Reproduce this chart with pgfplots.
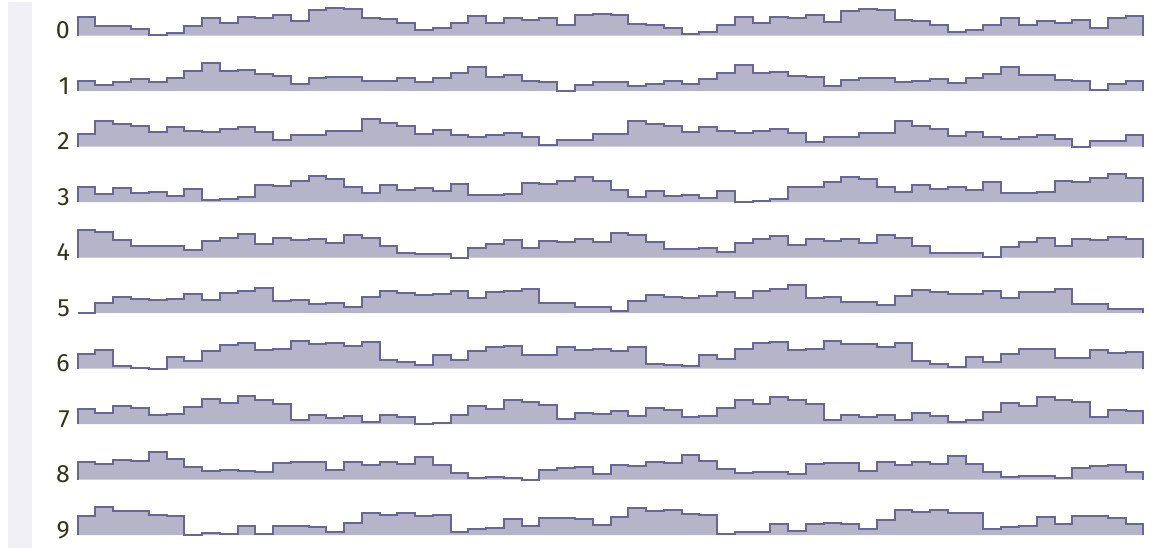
\documentclass[border=0pt]{standalone}
\usepackage{pgfplots}
\usepackage{pgfplotstable}
\pgfplotsset{compat=1.18}
\usepackage{fontspec}
\setmainfont{Fira Sans}[Numbers=Lining]
\definecolor{bandc}{RGB}{240,239,245}
\definecolor{linec}{RGB}{102,102,153}
\definecolor{fillc}{RGB}{181,180,201}
\definecolor{labc}{RGB}{52,52,22}
\pgfplotstableread{
x r0 r1 r2 r3 r4 r5 r6 r7 r8 r9
0 0 0 0 0 0 0 0 0 0 0
0 57 30 39 45 83 0 45 45 54 57
1 30 19 78 24 78 30 57 33 48 84
2 30 27 69 42 54 48 9 54 60 72
3 20 36 63 27 36 42 3 48 57 72
4 1 27 45 30 36 39 0 27 84 60
5 9 41 60 18 36 42 36 30 63 57
6 30 60 48 39 24 57 24 51 39 0
7 54 84 45 6 51 39 54 75 27 6
8 38 60 54 9 60 60 72 63 30 3
9 57 63 60 15 72 66 78 84 27 27
10 53 51 45 51 42 75 57 72 24 3
11 63 47 21 48 60 36 60 60 51 27
12 44 21 36 63 54 39 84 12 54 27
13 77 39 36 78 57 27 75 27 54 24
14 84 44 48 69 45 30 78 18 30 9
15 80 44 48 45 69 18 69 24 54 36
16 53 31 84 27 60 48 81 6 45 66
17 50 32 72 51 36 66 27 27 54 60
18 38 39 63 36 15 60 21 21 48 66
19 17 27 39 42 12 54 12 0 69 57
20 23 39 51 33 12 57 42 3 45 60
21 39 55 36 54 0 66 27 27 21 9
22 60 72 30 21 30 45 54 54 6 18
23 38 44 36 21 42 63 66 45 9 21
24 54 48 42 24 54 66 69 72 6 48
25 47 30 30 57 30 72 42 66 0 27
26 54 27 6 54 51 30 42 57 30 51
27 33 0 20 64 48 30 66 15 36 51
28 62 18 21 75 57 18 57 33 39 48
29 65 27 39 63 48 18 60 30 18 30
30 62 27 39 36 75 6 54 39 45 54
31 36 15 78 15 69 36 66 24 42 81
32 33 21 69 33 48 54 15 48 54 72
33 23 30 63 18 27 48 12 42 51 75
34 6 21 45 21 27 45 9 21 75 63
35 11 36 60 12 30 51 42 24 57 60
36 33 55 48 33 18 63 30 48 33 3
37 57 78 42 0 45 45 60 72 21 9
38 38 54 48 3 57 66 78 60 24 9
39 57 57 54 9 66 72 81 81 24 33
40 54 45 42 45 39 84 57 72 18 12
41 63 42 15 45 57 45 60 60 48 33
42 42 15 30 60 51 48 84 12 51 36
43 75 33 30 75 57 33 75 27 51 33
44 81 39 42 69 45 33 75 21 27 18
45 78 39 42 45 69 24 66 27 54 45
46 48 27 78 30 60 51 78 12 45 75
47 45 30 63 51 36 69 24 33 54 69
48 33 36 54 39 15 63 15 24 48 75
49 12 24 33 45 15 57 6 6 72 66
50 18 39 45 36 15 57 36 12 48 66
51 33 51 30 60 3 66 21 36 24 18
52 54 72 24 27 33 45 45 63 9 24
53 33 48 30 27 48 63 60 54 12 27
54 45 48 36 30 60 63 60 81 12 54
55 39 33 24 65 36 72 33 72 6 33
56 48 30 0 60 57 27 33 66 36 57
57 23 3 18 72 54 27 57 21 42 57
58 54 21 18 84 63 12 48 42 45 51
59 60 30 36 72 57 12 51 39 24 33
60 60 30 36 72 57 12 51 39 24 33
60 0 0 0 0 0 0 0 0 0 0
}\data
\pgfplotsset{
  rowax/.style={hide axis, scale only axis, width=1065.6pt, height=30pt,
    xmin=0, xmax=60, ymin=0, ymax=90, clip=false, anchor=south west},
  stp/.style={const plot, no marks, draw=linec, line width=2pt, fill=fillc, line join=miter},
}
\newcommand{\rowlabel}[1]{\node[anchor=base east, text=labc, inner sep=0pt, font=\fontsize{25}{25}\selectfont, xshift=-7.7pt, yshift=-3.3pt] at (rel axis cs:0,0) {#1};}
\begin{document}
\begin{tikzpicture}
\path[use as bounding box] (0,0) rectangle (1158pt,548pt);
\fill[bandc] (8pt,0) rectangle (32pt,546.3pt);
\begin{axis}[rowax, at={(77.7pt,512.3pt)}]
\addplot[stp] table[x=x,y=r0] {\data};
\rowlabel{0}
\end{axis}
\begin{axis}[rowax, at={(77.7pt,456.8pt)}]
\addplot[stp] table[x=x,y=r1] {\data};
\rowlabel{1}
\end{axis}
\begin{axis}[rowax, at={(77.7pt,401.3pt)}]
\addplot[stp] table[x=x,y=r2] {\data};
\rowlabel{2}
\end{axis}
\begin{axis}[rowax, at={(77.7pt,345.8pt)}]
\addplot[stp] table[x=x,y=r3] {\data};
\rowlabel{3}
\end{axis}
\begin{axis}[rowax, at={(77.7pt,290.3pt)}]
\addplot[stp] table[x=x,y=r4] {\data};
\rowlabel{4}
\end{axis}
\begin{axis}[rowax, at={(77.7pt,234.8pt)}]
\addplot[stp] table[x=x,y=r5] {\data};
\rowlabel{5}
\end{axis}
\begin{axis}[rowax, at={(77.7pt,179.3pt)}]
\addplot[stp] table[x=x,y=r6] {\data};
\rowlabel{6}
\end{axis}
\begin{axis}[rowax, at={(77.7pt,123.8pt)}]
\addplot[stp] table[x=x,y=r7] {\data};
\rowlabel{7}
\end{axis}
\begin{axis}[rowax, at={(77.7pt,68.3pt)}]
\addplot[stp] table[x=x,y=r8] {\data};
\rowlabel{8}
\end{axis}
\begin{axis}[rowax, at={(77.7pt,12.8pt)}]
\addplot[stp] table[x=x,y=r9] {\data};
\rowlabel{9}
\end{axis}
\end{tikzpicture}
\end{document}
